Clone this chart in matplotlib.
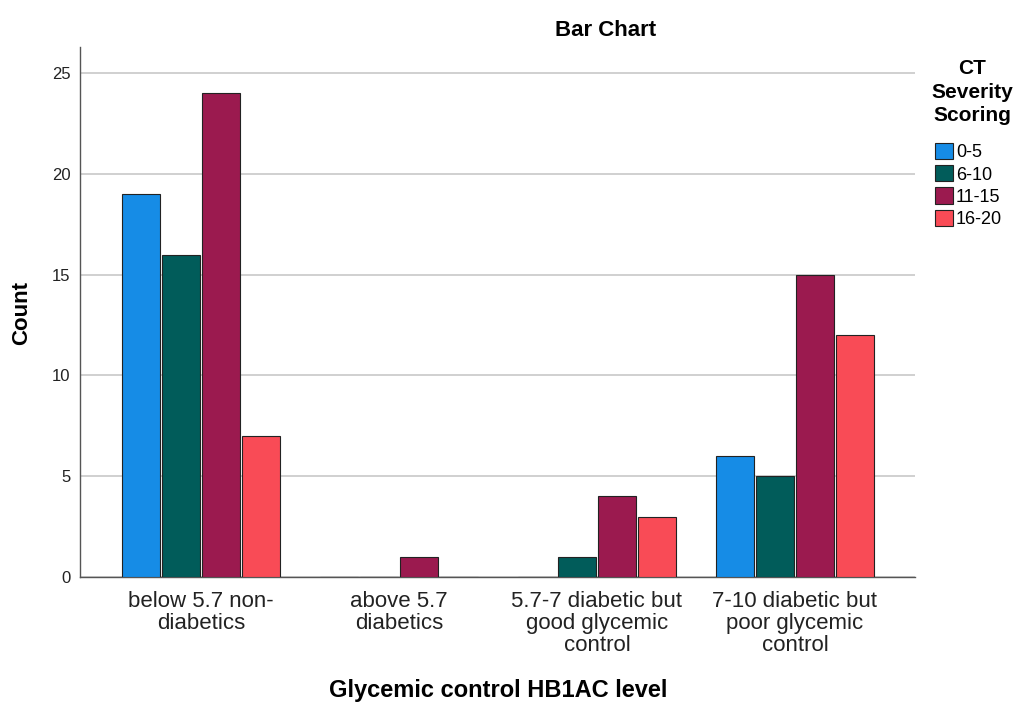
import numpy as np
import matplotlib.pyplot as plt

plt.rcParams['font.family'] = ['Liberation Sans', 'DejaVu Sans']

# Data
categories = ['below 5.7 non-\ndiabetics', 'above 5.7\ndiabetics',
              '5.7-7 diabetic but\ngood glycemic\ncontrol',
              '7-10 diabetic but\npoor glycemic\ncontrol']
severity = ['0-5', '6-10', '11-15', '16-20']
counts_0_5 = [19, 0, 0, 6]
counts_6_10 = [16, 0, 1, 5]
counts_11_15 = [24, 1, 4, 15]
counts_16_20 = [7, 0, 3, 12]
colors = ['#168ce6', '#015c5a', '#9b1a4f', '#f94b56']

series = [counts_0_5, counts_6_10, counts_11_15, counts_16_20]

W, H = 1019, 704
fig = plt.figure(figsize=(W / 100, H / 100), dpi=100)
ax = fig.add_axes([80 / W, 1 - 577 / H, 835 / W, 530 / H])

x = np.arange(len(categories))
step = 0.202
width = 0.19
for i, (vals, col, lab) in enumerate(zip(series, colors, severity)):
    offs = (i - 1.5) * step
    ax.bar(x + offs, vals, width=width, color=col, edgecolor='#222222',
           linewidth=0.8, label=lab, zorder=3)

ax.set_xlim(-0.61, 3.606)
ax.set_ylim(0, 26.3)
ax.set_yticks([0, 5, 10, 15, 20, 25])
ax.yaxis.grid(True, color='#c8c8c8', linewidth=1.2, zorder=0)
ax.set_xticks(x)
ax.set_xticklabels(categories, fontsize=16, color='#222222', linespacing=1.08)
ax.tick_params(axis='y', labelsize=12, length=0, pad=7, colors='#222222')
ax.tick_params(axis='x', length=0, pad=10)
for s in ['top', 'right']:
    ax.spines[s].set_visible(False)
for s in ['left', 'bottom']:
    ax.spines[s].set_color('#555555')
    ax.spines[s].set_linewidth(1.0)

fig.text(606 / W, 1 - 30 / H, 'Bar Chart', fontsize=16, fontweight='bold',
         ha='center', va='center')
fig.text(22 / W, 1 - 313 / H, 'Count', fontsize=16, fontweight='bold',
         rotation=90, ha='center', va='center')
fig.text(498 / W, 1 - 690 / H, 'Glycemic control HB1AC level', fontsize=17,
         fontweight='bold', ha='center', va='center')
fig.text(972 / W, 1 - 92 / H, 'CT\nSeverity\nScoring', fontsize=15,
         fontweight='bold', ha='center', va='center', multialignment='center',
         linespacing=1.32)

fig.legend(loc='upper left', bbox_to_anchor=(935 / W, 1 - 143 / H),
           bbox_transform=fig.transFigure, frameon=False, fontsize=13,
           handlelength=1.0, handleheight=1.0, handletextpad=0.15,
           labelspacing=0.22, borderaxespad=0, borderpad=0)

fig.savefig('out.png', dpi=100)
